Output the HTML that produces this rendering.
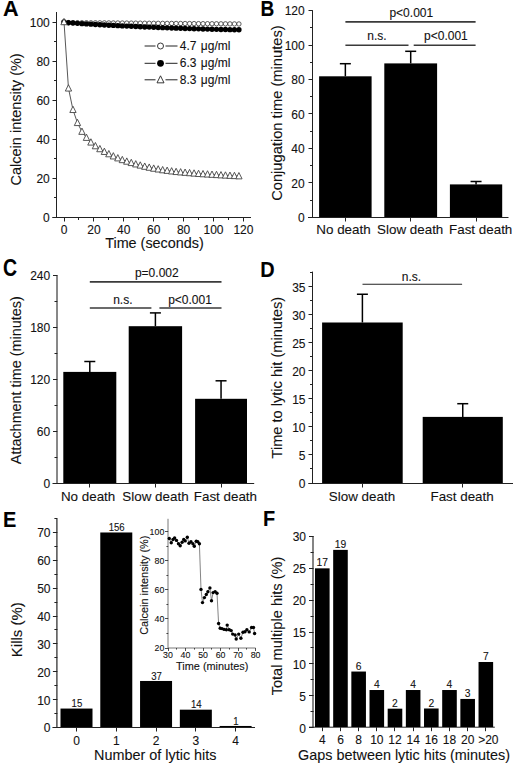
<!DOCTYPE html>
<html><head><meta charset="utf-8"><style>
html,body{margin:0;padding:0;background:#fff;}
svg{display:block;font-family:"Liberation Sans", sans-serif;}
text{stroke:#111;stroke-width:0.1px;paint-order:stroke;}
</style></head><body>
<svg width="520" height="763" viewBox="0 0 520 763">
<rect width="520" height="763" fill="#fff"/>
<text x="0" y="0" transform="translate(3,16.4) scale(1.03,1.075)" font-size="21" text-anchor="start" font-weight="bold" fill="#000">A</text>
<line x1="56.5" y1="12" x2="56.5" y2="217.5" stroke="#222" stroke-width="1"/>
<line x1="52.5" y1="217.5" x2="56.8" y2="217.5" stroke="#222" stroke-width="1"/>
<line x1="52.5" y1="178.5" x2="56.8" y2="178.5" stroke="#222" stroke-width="1"/>
<line x1="52.5" y1="139.5" x2="56.8" y2="139.5" stroke="#222" stroke-width="1"/>
<line x1="52.5" y1="100.5" x2="56.8" y2="100.5" stroke="#222" stroke-width="1"/>
<line x1="52.5" y1="61.5" x2="56.8" y2="61.5" stroke="#222" stroke-width="1"/>
<line x1="52.5" y1="22.5" x2="56.8" y2="22.5" stroke="#222" stroke-width="1"/>
<line x1="54" y1="197.5" x2="56.8" y2="197.5" stroke="#222" stroke-width="1"/>
<line x1="54" y1="158.5" x2="56.8" y2="158.5" stroke="#222" stroke-width="1"/>
<line x1="54" y1="119.5" x2="56.8" y2="119.5" stroke="#222" stroke-width="1"/>
<line x1="54" y1="80.5" x2="56.8" y2="80.5" stroke="#222" stroke-width="1"/>
<line x1="54" y1="41.5" x2="56.8" y2="41.5" stroke="#222" stroke-width="1"/>
<text x="49.8" y="222" font-size="12" text-anchor="end" fill="#111">0</text>
<text x="49.8" y="182.98" font-size="12" text-anchor="end" fill="#111">20</text>
<text x="49.8" y="143.96" font-size="12" text-anchor="end" fill="#111">40</text>
<text x="49.8" y="104.94" font-size="12" text-anchor="end" fill="#111">60</text>
<text x="49.8" y="65.92" font-size="12" text-anchor="end" fill="#111">80</text>
<text x="49.8" y="26.9" font-size="12" text-anchor="end" fill="#111">100</text>
<line x1="52.5" y1="217.5" x2="251" y2="217.5" stroke="#222" stroke-width="1"/>
<line x1="64.5" y1="217.5" x2="64.5" y2="221.5" stroke="#222" stroke-width="1"/>
<line x1="93.5" y1="217.5" x2="93.5" y2="221.5" stroke="#222" stroke-width="1"/>
<line x1="123.5" y1="217.5" x2="123.5" y2="221.5" stroke="#222" stroke-width="1"/>
<line x1="153.5" y1="217.5" x2="153.5" y2="221.5" stroke="#222" stroke-width="1"/>
<line x1="183.5" y1="217.5" x2="183.5" y2="221.5" stroke="#222" stroke-width="1"/>
<line x1="213.5" y1="217.5" x2="213.5" y2="221.5" stroke="#222" stroke-width="1"/>
<line x1="243.5" y1="217.5" x2="243.5" y2="221.5" stroke="#222" stroke-width="1"/>
<line x1="78.5" y1="217.5" x2="78.5" y2="220" stroke="#222" stroke-width="1"/>
<line x1="108.5" y1="217.5" x2="108.5" y2="220" stroke="#222" stroke-width="1"/>
<line x1="138.5" y1="217.5" x2="138.5" y2="220" stroke="#222" stroke-width="1"/>
<line x1="168.5" y1="217.5" x2="168.5" y2="220" stroke="#222" stroke-width="1"/>
<line x1="198.5" y1="217.5" x2="198.5" y2="220" stroke="#222" stroke-width="1"/>
<line x1="228.5" y1="217.5" x2="228.5" y2="220" stroke="#222" stroke-width="1"/>
<text x="64" y="233.7" font-size="12" text-anchor="middle" fill="#111">0</text>
<text x="93.9" y="233.7" font-size="12" text-anchor="middle" fill="#111">20</text>
<text x="123.8" y="233.7" font-size="12" text-anchor="middle" fill="#111">40</text>
<text x="153.7" y="233.7" font-size="12" text-anchor="middle" fill="#111">60</text>
<text x="183.6" y="233.7" font-size="12" text-anchor="middle" fill="#111">80</text>
<text x="213.5" y="233.7" font-size="12" text-anchor="middle" fill="#111">100</text>
<text x="243.4" y="233.7" font-size="12" text-anchor="middle" fill="#111">120</text>
<text x="154.5" y="248" font-size="14.4" text-anchor="middle" fill="#111">Time (seconds)</text>
<text x="0" y="0" transform="translate(21,119.4) rotate(-90)" font-size="14.5" text-anchor="middle" fill="#111">Calcein intensity (%)</text>
<polyline points="64,22 68.48,22.62 72.97,22.66 77.45,22.69 81.94,22.73 86.42,22.76 90.91,22.8 95.4,22.83 99.88,22.87 104.37,22.9 108.85,22.94 113.34,22.97 117.82,23.01 122.31,23.04 126.79,23.08 131.28,23.11 135.76,23.15 140.25,23.18 144.73,23.22 149.22,23.25 153.7,23.29 158.19,23.32 162.67,23.36 167.16,23.39 171.64,23.43 176.12,23.46 180.61,23.5 185.1,23.53 189.58,23.57 194.06,23.6 198.55,23.64 203.03,23.67 207.52,23.71 212.01,23.74 216.49,23.78 220.98,23.81 225.46,23.85 229.95,23.88 234.43,23.92 238.92,23.95" fill="none" stroke="#444" stroke-width="0.8"/>
<circle cx="64" cy="22" r="2.2" fill="#fff" stroke="#333" stroke-width="0.8"/>
<circle cx="68.48" cy="22.62" r="2.2" fill="#fff" stroke="#333" stroke-width="0.8"/>
<circle cx="72.97" cy="22.66" r="2.2" fill="#fff" stroke="#333" stroke-width="0.8"/>
<circle cx="77.45" cy="22.69" r="2.2" fill="#fff" stroke="#333" stroke-width="0.8"/>
<circle cx="81.94" cy="22.73" r="2.2" fill="#fff" stroke="#333" stroke-width="0.8"/>
<circle cx="86.42" cy="22.76" r="2.2" fill="#fff" stroke="#333" stroke-width="0.8"/>
<circle cx="90.91" cy="22.8" r="2.2" fill="#fff" stroke="#333" stroke-width="0.8"/>
<circle cx="95.4" cy="22.83" r="2.2" fill="#fff" stroke="#333" stroke-width="0.8"/>
<circle cx="99.88" cy="22.87" r="2.2" fill="#fff" stroke="#333" stroke-width="0.8"/>
<circle cx="104.37" cy="22.9" r="2.2" fill="#fff" stroke="#333" stroke-width="0.8"/>
<circle cx="108.85" cy="22.94" r="2.2" fill="#fff" stroke="#333" stroke-width="0.8"/>
<circle cx="113.34" cy="22.97" r="2.2" fill="#fff" stroke="#333" stroke-width="0.8"/>
<circle cx="117.82" cy="23.01" r="2.2" fill="#fff" stroke="#333" stroke-width="0.8"/>
<circle cx="122.31" cy="23.04" r="2.2" fill="#fff" stroke="#333" stroke-width="0.8"/>
<circle cx="126.79" cy="23.08" r="2.2" fill="#fff" stroke="#333" stroke-width="0.8"/>
<circle cx="131.28" cy="23.11" r="2.2" fill="#fff" stroke="#333" stroke-width="0.8"/>
<circle cx="135.76" cy="23.15" r="2.2" fill="#fff" stroke="#333" stroke-width="0.8"/>
<circle cx="140.25" cy="23.18" r="2.2" fill="#fff" stroke="#333" stroke-width="0.8"/>
<circle cx="144.73" cy="23.22" r="2.2" fill="#fff" stroke="#333" stroke-width="0.8"/>
<circle cx="149.22" cy="23.25" r="2.2" fill="#fff" stroke="#333" stroke-width="0.8"/>
<circle cx="153.7" cy="23.29" r="2.2" fill="#fff" stroke="#333" stroke-width="0.8"/>
<circle cx="158.19" cy="23.32" r="2.2" fill="#fff" stroke="#333" stroke-width="0.8"/>
<circle cx="162.67" cy="23.36" r="2.2" fill="#fff" stroke="#333" stroke-width="0.8"/>
<circle cx="167.16" cy="23.39" r="2.2" fill="#fff" stroke="#333" stroke-width="0.8"/>
<circle cx="171.64" cy="23.43" r="2.2" fill="#fff" stroke="#333" stroke-width="0.8"/>
<circle cx="176.12" cy="23.46" r="2.2" fill="#fff" stroke="#333" stroke-width="0.8"/>
<circle cx="180.61" cy="23.5" r="2.2" fill="#fff" stroke="#333" stroke-width="0.8"/>
<circle cx="185.1" cy="23.53" r="2.2" fill="#fff" stroke="#333" stroke-width="0.8"/>
<circle cx="189.58" cy="23.57" r="2.2" fill="#fff" stroke="#333" stroke-width="0.8"/>
<circle cx="194.06" cy="23.6" r="2.2" fill="#fff" stroke="#333" stroke-width="0.8"/>
<circle cx="198.55" cy="23.64" r="2.2" fill="#fff" stroke="#333" stroke-width="0.8"/>
<circle cx="203.03" cy="23.67" r="2.2" fill="#fff" stroke="#333" stroke-width="0.8"/>
<circle cx="207.52" cy="23.71" r="2.2" fill="#fff" stroke="#333" stroke-width="0.8"/>
<circle cx="212.01" cy="23.74" r="2.2" fill="#fff" stroke="#333" stroke-width="0.8"/>
<circle cx="216.49" cy="23.78" r="2.2" fill="#fff" stroke="#333" stroke-width="0.8"/>
<circle cx="220.98" cy="23.81" r="2.2" fill="#fff" stroke="#333" stroke-width="0.8"/>
<circle cx="225.46" cy="23.85" r="2.2" fill="#fff" stroke="#333" stroke-width="0.8"/>
<circle cx="229.95" cy="23.88" r="2.2" fill="#fff" stroke="#333" stroke-width="0.8"/>
<circle cx="234.43" cy="23.92" r="2.2" fill="#fff" stroke="#333" stroke-width="0.8"/>
<circle cx="238.92" cy="23.95" r="2.2" fill="#fff" stroke="#333" stroke-width="0.8"/>
<circle cx="64" cy="22" r="2.7" fill="#000"/>
<circle cx="68.48" cy="22.78" r="2.7" fill="#000"/>
<circle cx="72.97" cy="23.07" r="2.7" fill="#000"/>
<circle cx="77.45" cy="23.35" r="2.7" fill="#000"/>
<circle cx="81.94" cy="23.63" r="2.7" fill="#000"/>
<circle cx="86.42" cy="23.9" r="2.7" fill="#000"/>
<circle cx="90.91" cy="24.17" r="2.7" fill="#000"/>
<circle cx="95.4" cy="24.43" r="2.7" fill="#000"/>
<circle cx="99.88" cy="24.69" r="2.7" fill="#000"/>
<circle cx="104.37" cy="24.93" r="2.7" fill="#000"/>
<circle cx="108.85" cy="25.18" r="2.7" fill="#000"/>
<circle cx="113.34" cy="25.42" r="2.7" fill="#000"/>
<circle cx="117.82" cy="25.65" r="2.7" fill="#000"/>
<circle cx="122.31" cy="25.88" r="2.7" fill="#000"/>
<circle cx="126.79" cy="26.1" r="2.7" fill="#000"/>
<circle cx="131.28" cy="26.31" r="2.7" fill="#000"/>
<circle cx="135.76" cy="26.52" r="2.7" fill="#000"/>
<circle cx="140.25" cy="26.73" r="2.7" fill="#000"/>
<circle cx="144.73" cy="26.93" r="2.7" fill="#000"/>
<circle cx="149.22" cy="27.12" r="2.7" fill="#000"/>
<circle cx="153.7" cy="27.31" r="2.7" fill="#000"/>
<circle cx="158.19" cy="27.49" r="2.7" fill="#000"/>
<circle cx="162.67" cy="27.67" r="2.7" fill="#000"/>
<circle cx="167.16" cy="27.84" r="2.7" fill="#000"/>
<circle cx="171.64" cy="28" r="2.7" fill="#000"/>
<circle cx="176.12" cy="28.16" r="2.7" fill="#000"/>
<circle cx="180.61" cy="28.31" r="2.7" fill="#000"/>
<circle cx="185.1" cy="28.46" r="2.7" fill="#000"/>
<circle cx="189.58" cy="28.61" r="2.7" fill="#000"/>
<circle cx="194.06" cy="28.74" r="2.7" fill="#000"/>
<circle cx="198.55" cy="28.87" r="2.7" fill="#000"/>
<circle cx="203.03" cy="29" r="2.7" fill="#000"/>
<circle cx="207.52" cy="29.12" r="2.7" fill="#000"/>
<circle cx="212.01" cy="29.23" r="2.7" fill="#000"/>
<circle cx="216.49" cy="29.34" r="2.7" fill="#000"/>
<circle cx="220.98" cy="29.45" r="2.7" fill="#000"/>
<circle cx="225.46" cy="29.54" r="2.7" fill="#000"/>
<circle cx="229.95" cy="29.64" r="2.7" fill="#000"/>
<circle cx="234.43" cy="29.72" r="2.7" fill="#000"/>
<circle cx="238.92" cy="29.8" r="2.7" fill="#000"/>
<polyline points="64,22 68.48,88.33 72.97,109.79 77.45,122.87 81.94,131.65 86.42,137.69 90.91,142.38 95.4,146.08 99.88,149.01 104.37,151.74 108.85,154.08 113.34,156.23 117.82,158.18 122.31,159.94 126.79,161.5 131.28,162.86 135.76,164.23 140.25,165.4 144.73,166.57 149.22,167.54 153.7,168.52 158.19,169.3 162.67,170.08 167.16,170.67 171.64,171.25 176.12,171.84 180.61,172.23 185.1,172.62 189.58,173.01 194.06,173.4 198.55,173.79 203.03,174.06 207.52,174.33 212.01,174.61 216.49,174.88 220.98,175.15 225.46,175.4 229.95,175.64 234.43,175.89 238.92,176.13" fill="none" stroke="#444" stroke-width="0.9"/>
<path d="M64,18.4 L67.15,24.73 L60.85,24.73 Z" fill="#fff" stroke="#444" stroke-width="0.9"/>
<path d="M68.48,84.73 L71.64,91.06 L65.33,91.06 Z" fill="#fff" stroke="#444" stroke-width="0.9"/>
<path d="M72.97,106.19 L76.12,112.52 L69.82,112.52 Z" fill="#fff" stroke="#444" stroke-width="0.9"/>
<path d="M77.45,119.27 L80.61,125.59 L74.3,125.59 Z" fill="#fff" stroke="#444" stroke-width="0.9"/>
<path d="M81.94,128.05 L85.09,134.37 L78.79,134.37 Z" fill="#fff" stroke="#444" stroke-width="0.9"/>
<path d="M86.42,134.09 L89.58,140.42 L83.27,140.42 Z" fill="#fff" stroke="#444" stroke-width="0.9"/>
<path d="M90.91,138.78 L94.06,145.1 L87.76,145.1 Z" fill="#fff" stroke="#444" stroke-width="0.9"/>
<path d="M95.4,142.48 L98.55,148.81 L92.25,148.81 Z" fill="#fff" stroke="#444" stroke-width="0.9"/>
<path d="M99.88,145.41 L103.03,151.74 L96.73,151.74 Z" fill="#fff" stroke="#444" stroke-width="0.9"/>
<path d="M104.37,148.14 L107.52,154.47 L101.22,154.47 Z" fill="#fff" stroke="#444" stroke-width="0.9"/>
<path d="M108.85,150.48 L112,156.81 L105.7,156.81 Z" fill="#fff" stroke="#444" stroke-width="0.9"/>
<path d="M113.34,152.63 L116.49,158.96 L110.19,158.96 Z" fill="#fff" stroke="#444" stroke-width="0.9"/>
<path d="M117.82,154.58 L120.97,160.91 L114.67,160.91 Z" fill="#fff" stroke="#444" stroke-width="0.9"/>
<path d="M122.31,156.33 L125.46,162.66 L119.16,162.66 Z" fill="#fff" stroke="#444" stroke-width="0.9"/>
<path d="M126.79,157.9 L129.94,164.22 L123.64,164.22 Z" fill="#fff" stroke="#444" stroke-width="0.9"/>
<path d="M131.28,159.26 L134.43,165.59 L128.12,165.59 Z" fill="#fff" stroke="#444" stroke-width="0.9"/>
<path d="M135.76,160.63 L138.91,166.96 L132.61,166.96 Z" fill="#fff" stroke="#444" stroke-width="0.9"/>
<path d="M140.25,161.8 L143.4,168.13 L137.09,168.13 Z" fill="#fff" stroke="#444" stroke-width="0.9"/>
<path d="M144.73,162.97 L147.88,169.3 L141.58,169.3 Z" fill="#fff" stroke="#444" stroke-width="0.9"/>
<path d="M149.22,163.94 L152.37,170.27 L146.06,170.27 Z" fill="#fff" stroke="#444" stroke-width="0.9"/>
<path d="M153.7,164.92 L156.85,171.25 L150.55,171.25 Z" fill="#fff" stroke="#444" stroke-width="0.9"/>
<path d="M158.19,165.7 L161.34,172.03 L155.03,172.03 Z" fill="#fff" stroke="#444" stroke-width="0.9"/>
<path d="M162.67,166.48 L165.82,172.81 L159.52,172.81 Z" fill="#fff" stroke="#444" stroke-width="0.9"/>
<path d="M167.16,167.07 L170.31,173.39 L164,173.39 Z" fill="#fff" stroke="#444" stroke-width="0.9"/>
<path d="M171.64,167.65 L174.79,173.98 L168.49,173.98 Z" fill="#fff" stroke="#444" stroke-width="0.9"/>
<path d="M176.12,168.24 L179.28,174.56 L172.97,174.56 Z" fill="#fff" stroke="#444" stroke-width="0.9"/>
<path d="M180.61,168.63 L183.76,174.95 L177.46,174.95 Z" fill="#fff" stroke="#444" stroke-width="0.9"/>
<path d="M185.1,169.02 L188.25,175.35 L181.95,175.35 Z" fill="#fff" stroke="#444" stroke-width="0.9"/>
<path d="M189.58,169.41 L192.73,175.74 L186.43,175.74 Z" fill="#fff" stroke="#444" stroke-width="0.9"/>
<path d="M194.06,169.8 L197.22,176.13 L190.91,176.13 Z" fill="#fff" stroke="#444" stroke-width="0.9"/>
<path d="M198.55,170.19 L201.7,176.52 L195.4,176.52 Z" fill="#fff" stroke="#444" stroke-width="0.9"/>
<path d="M203.03,170.46 L206.19,176.79 L199.88,176.79 Z" fill="#fff" stroke="#444" stroke-width="0.9"/>
<path d="M207.52,170.73 L210.67,177.06 L204.37,177.06 Z" fill="#fff" stroke="#444" stroke-width="0.9"/>
<path d="M212.01,171.01 L215.16,177.34 L208.86,177.34 Z" fill="#fff" stroke="#444" stroke-width="0.9"/>
<path d="M216.49,171.28 L219.64,177.61 L213.34,177.61 Z" fill="#fff" stroke="#444" stroke-width="0.9"/>
<path d="M220.98,171.55 L224.13,177.88 L217.83,177.88 Z" fill="#fff" stroke="#444" stroke-width="0.9"/>
<path d="M225.46,171.8 L228.61,178.13 L222.31,178.13 Z" fill="#fff" stroke="#444" stroke-width="0.9"/>
<path d="M229.95,172.04 L233.1,178.37 L226.8,178.37 Z" fill="#fff" stroke="#444" stroke-width="0.9"/>
<path d="M234.43,172.28 L237.58,178.61 L231.28,178.61 Z" fill="#fff" stroke="#444" stroke-width="0.9"/>
<path d="M238.92,172.53 L242.07,178.86 L235.77,178.86 Z" fill="#fff" stroke="#444" stroke-width="0.9"/>
<line x1="144.6" y1="46" x2="155.5" y2="46" stroke="#222" stroke-width="1"/>
<line x1="165.5" y1="46" x2="177.5" y2="46" stroke="#222" stroke-width="1"/>
<circle cx="160.5" cy="46" r="3" fill="#fff" stroke="#222" stroke-width="0.9"/>
<text x="179.8" y="50" font-size="12" text-anchor="start" fill="#111">4.7 <tspan dx="1">μg/ml</tspan></text>
<line x1="144.6" y1="63.3" x2="155.5" y2="63.3" stroke="#222" stroke-width="1"/>
<line x1="165.5" y1="63.3" x2="177.5" y2="63.3" stroke="#222" stroke-width="1"/>
<circle cx="160.5" cy="63.3" r="3.4" fill="#000"/>
<text x="179.8" y="67.3" font-size="12" text-anchor="start" fill="#111">6.3 <tspan dx="1">μg/ml</tspan></text>
<line x1="144.6" y1="79.8" x2="155.5" y2="79.8" stroke="#222" stroke-width="1"/>
<line x1="165.5" y1="79.8" x2="177.5" y2="79.8" stroke="#222" stroke-width="1"/>
<path d="M160.5,75.8 L164,82.83 L157,82.83 Z" fill="#fff" stroke="#222" stroke-width="0.9"/>
<text x="179.8" y="83.8" font-size="12" text-anchor="start" fill="#111">8.3 <tspan dx="1">μg/ml</tspan></text>
<text x="0" y="0" transform="translate(260.5,15.6) scale(0.91,1.05)" font-size="21" text-anchor="start" font-weight="bold" fill="#000">B</text>
<line x1="312.5" y1="10.4" x2="312.5" y2="217.5" stroke="#222" stroke-width="1"/>
<line x1="308.5" y1="217.5" x2="312.8" y2="217.5" stroke="#222" stroke-width="1"/>
<line x1="308.5" y1="182.5" x2="312.8" y2="182.5" stroke="#222" stroke-width="1"/>
<line x1="308.5" y1="148.5" x2="312.8" y2="148.5" stroke="#222" stroke-width="1"/>
<line x1="308.5" y1="113.5" x2="312.8" y2="113.5" stroke="#222" stroke-width="1"/>
<line x1="308.5" y1="79.5" x2="312.8" y2="79.5" stroke="#222" stroke-width="1"/>
<line x1="308.5" y1="45.5" x2="312.8" y2="45.5" stroke="#222" stroke-width="1"/>
<line x1="308.5" y1="10.5" x2="312.8" y2="10.5" stroke="#222" stroke-width="1"/>
<line x1="310" y1="200.5" x2="312.8" y2="200.5" stroke="#222" stroke-width="1"/>
<line x1="310" y1="165.5" x2="312.8" y2="165.5" stroke="#222" stroke-width="1"/>
<line x1="310" y1="131.5" x2="312.8" y2="131.5" stroke="#222" stroke-width="1"/>
<line x1="310" y1="96.5" x2="312.8" y2="96.5" stroke="#222" stroke-width="1"/>
<line x1="310" y1="62.5" x2="312.8" y2="62.5" stroke="#222" stroke-width="1"/>
<line x1="310" y1="27.5" x2="312.8" y2="27.5" stroke="#222" stroke-width="1"/>
<text x="304.7" y="222.2" font-size="12" text-anchor="end" fill="#111">0</text>
<text x="304.7" y="187.74" font-size="12" text-anchor="end" fill="#111">20</text>
<text x="304.7" y="153.28" font-size="12" text-anchor="end" fill="#111">40</text>
<text x="304.7" y="118.82" font-size="12" text-anchor="end" fill="#111">60</text>
<text x="304.7" y="84.36" font-size="12" text-anchor="end" fill="#111">80</text>
<text x="304.7" y="49.9" font-size="12" text-anchor="end" fill="#111">100</text>
<text x="304.7" y="15.44" font-size="12" text-anchor="end" fill="#111">120</text>
<line x1="308" y1="217.5" x2="508.5" y2="217.5" stroke="#222" stroke-width="1"/>
<line x1="345.5" y1="217.5" x2="345.5" y2="221.5" stroke="#222" stroke-width="1"/>
<line x1="410.5" y1="217.5" x2="410.5" y2="221.5" stroke="#222" stroke-width="1"/>
<line x1="476.5" y1="217.5" x2="476.5" y2="221.5" stroke="#222" stroke-width="1"/>
<rect x="319.1" y="76.3" width="52.5" height="140.7" fill="#000"/>
<line x1="345.35" y1="76.3" x2="345.35" y2="63.7" stroke="#000" stroke-width="1.5"/>
<line x1="339.85" y1="63.7" x2="350.85" y2="63.7" stroke="#000" stroke-width="1.5"/>
<rect x="384.3" y="63.4" width="52.8" height="153.6" fill="#000"/>
<line x1="410.7" y1="63.4" x2="410.7" y2="51.3" stroke="#000" stroke-width="1.5"/>
<line x1="405.2" y1="51.3" x2="416.2" y2="51.3" stroke="#000" stroke-width="1.5"/>
<rect x="449.9" y="184.4" width="52.3" height="32.6" fill="#000"/>
<line x1="476.05" y1="184.4" x2="476.05" y2="181.5" stroke="#000" stroke-width="1.5"/>
<line x1="470.55" y1="181.5" x2="481.55" y2="181.5" stroke="#000" stroke-width="1.5"/>
<line x1="345.4" y1="21.9" x2="475.6" y2="21.9" stroke="#3a3a3a" stroke-width="1.6"/>
<line x1="345.4" y1="45.3" x2="408.5" y2="45.3" stroke="#3a3a3a" stroke-width="1.6"/>
<line x1="413.7" y1="45.3" x2="475.6" y2="45.3" stroke="#3a3a3a" stroke-width="1.6"/>
<text x="411.3" y="17.3" font-size="12" text-anchor="middle" fill="#111">p&lt;0.001</text>
<text x="377" y="40.1" font-size="12" text-anchor="middle" fill="#111">n.s.</text>
<text x="445.9" y="39.6" font-size="12" text-anchor="middle" fill="#111">p&lt;0.001</text>
<text x="343.5" y="234" font-size="13.4" text-anchor="middle" fill="#111">No death</text>
<text x="410.2" y="234" font-size="13.4" text-anchor="middle" fill="#111">Slow death</text>
<text x="480.7" y="233.5" font-size="13.4" text-anchor="middle" fill="#111">Fast death</text>
<text x="0" y="0" transform="translate(282.2,113.1) rotate(-90)" font-size="14.7" text-anchor="middle" fill="#111">Conjugation time (minutes)</text>
<text x="0" y="0" transform="translate(3,276.4) scale(0.93,1.1)" font-size="21" text-anchor="start" font-weight="bold" fill="#000">C</text>
<line x1="57" y1="275" x2="57" y2="483.5" stroke="#111" stroke-width="1"/>
<line x1="53" y1="483.5" x2="57.3" y2="483.5" stroke="#222" stroke-width="1"/>
<line x1="53" y1="431.5" x2="57.3" y2="431.5" stroke="#222" stroke-width="1"/>
<line x1="53" y1="379.5" x2="57.3" y2="379.5" stroke="#222" stroke-width="1"/>
<line x1="53" y1="327.5" x2="57.3" y2="327.5" stroke="#222" stroke-width="1"/>
<line x1="53" y1="275.5" x2="57.3" y2="275.5" stroke="#222" stroke-width="1"/>
<line x1="54.5" y1="457.5" x2="57.3" y2="457.5" stroke="#222" stroke-width="1"/>
<line x1="54.5" y1="405.5" x2="57.3" y2="405.5" stroke="#222" stroke-width="1"/>
<line x1="54.5" y1="353.5" x2="57.3" y2="353.5" stroke="#222" stroke-width="1"/>
<line x1="54.5" y1="301.5" x2="57.3" y2="301.5" stroke="#222" stroke-width="1"/>
<text x="50.2" y="488.3" font-size="12" text-anchor="end" fill="#111">0</text>
<text x="50.2" y="436.3" font-size="12" text-anchor="end" fill="#111">60</text>
<text x="50.2" y="384.3" font-size="12" text-anchor="end" fill="#111">120</text>
<text x="50.2" y="332.29" font-size="12" text-anchor="end" fill="#111">180</text>
<text x="50.2" y="280.29" font-size="12" text-anchor="end" fill="#111">240</text>
<line x1="52.5" y1="483.5" x2="254.2" y2="483.5" stroke="#222" stroke-width="1"/>
<line x1="89.5" y1="483.5" x2="89.5" y2="487.5" stroke="#222" stroke-width="1"/>
<line x1="155.5" y1="483.5" x2="155.5" y2="487.5" stroke="#222" stroke-width="1"/>
<line x1="221.5" y1="483.5" x2="221.5" y2="487.5" stroke="#222" stroke-width="1"/>
<rect x="63.3" y="371.9" width="53" height="111.1" fill="#000"/>
<line x1="89.8" y1="371.9" x2="89.8" y2="361.5" stroke="#000" stroke-width="1.5"/>
<line x1="84.3" y1="361.5" x2="95.3" y2="361.5" stroke="#000" stroke-width="1.5"/>
<rect x="128.7" y="326.2" width="53.4" height="156.8" fill="#000"/>
<line x1="155.4" y1="326.2" x2="155.4" y2="312.9" stroke="#000" stroke-width="1.5"/>
<line x1="149.9" y1="312.9" x2="160.9" y2="312.9" stroke="#000" stroke-width="1.5"/>
<rect x="195.1" y="398.8" width="51.9" height="84.2" fill="#000"/>
<line x1="221.05" y1="398.8" x2="221.05" y2="380.8" stroke="#000" stroke-width="1.5"/>
<line x1="215.55" y1="380.8" x2="226.55" y2="380.8" stroke="#000" stroke-width="1.5"/>
<line x1="89.8" y1="281.9" x2="221.5" y2="281.9" stroke="#3a3a3a" stroke-width="1.6"/>
<line x1="89.8" y1="308" x2="151.4" y2="308" stroke="#3a3a3a" stroke-width="1.6"/>
<line x1="159.4" y1="308" x2="221.5" y2="308" stroke="#3a3a3a" stroke-width="1.6"/>
<text x="156.8" y="277.4" font-size="12" text-anchor="middle" fill="#111">p=0.002</text>
<text x="122.8" y="303.7" font-size="12" text-anchor="middle" fill="#111">n.s.</text>
<text x="190" y="303.7" font-size="12" text-anchor="middle" fill="#111">p&lt;0.001</text>
<text x="88.1" y="500.9" font-size="13.4" text-anchor="middle" fill="#111">No death</text>
<text x="155.5" y="500.9" font-size="13.4" text-anchor="middle" fill="#111">Slow death</text>
<text x="225.4" y="500.9" font-size="13.4" text-anchor="middle" fill="#111">Fast death</text>
<text x="0" y="0" transform="translate(21,380.2) rotate(-90)" font-size="14.4" text-anchor="middle" fill="#111">Attachment time (minutes)</text>
<text x="0" y="0" transform="translate(260.2,277) scale(0.95,1.09)" font-size="21" text-anchor="start" font-weight="bold" fill="#000">D</text>
<line x1="312.5" y1="271.6" x2="312.5" y2="483.5" stroke="#222" stroke-width="1"/>
<line x1="308.5" y1="483.5" x2="312.8" y2="483.5" stroke="#222" stroke-width="1"/>
<line x1="308.5" y1="454.5" x2="312.8" y2="454.5" stroke="#222" stroke-width="1"/>
<line x1="308.5" y1="426.5" x2="312.8" y2="426.5" stroke="#222" stroke-width="1"/>
<line x1="308.5" y1="398.5" x2="312.8" y2="398.5" stroke="#222" stroke-width="1"/>
<line x1="308.5" y1="370.5" x2="312.8" y2="370.5" stroke="#222" stroke-width="1"/>
<line x1="308.5" y1="342.5" x2="312.8" y2="342.5" stroke="#222" stroke-width="1"/>
<line x1="308.5" y1="314.5" x2="312.8" y2="314.5" stroke="#222" stroke-width="1"/>
<line x1="308.5" y1="286.5" x2="312.8" y2="286.5" stroke="#222" stroke-width="1"/>
<line x1="310" y1="468.5" x2="312.8" y2="468.5" stroke="#222" stroke-width="1"/>
<line x1="310" y1="440.5" x2="312.8" y2="440.5" stroke="#222" stroke-width="1"/>
<line x1="310" y1="412.5" x2="312.8" y2="412.5" stroke="#222" stroke-width="1"/>
<line x1="310" y1="384.5" x2="312.8" y2="384.5" stroke="#222" stroke-width="1"/>
<line x1="310" y1="356.5" x2="312.8" y2="356.5" stroke="#222" stroke-width="1"/>
<line x1="310" y1="328.5" x2="312.8" y2="328.5" stroke="#222" stroke-width="1"/>
<line x1="310" y1="300.5" x2="312.8" y2="300.5" stroke="#222" stroke-width="1"/>
<line x1="310" y1="272.5" x2="312.8" y2="272.5" stroke="#222" stroke-width="1"/>
<text x="305.5" y="487.9" font-size="12" text-anchor="end" fill="#111">0</text>
<text x="305.5" y="459.85" font-size="12" text-anchor="end" fill="#111">5</text>
<text x="305.5" y="431.81" font-size="12" text-anchor="end" fill="#111">10</text>
<text x="305.5" y="403.76" font-size="12" text-anchor="end" fill="#111">15</text>
<text x="305.5" y="375.72" font-size="12" text-anchor="end" fill="#111">20</text>
<text x="305.5" y="347.67" font-size="12" text-anchor="end" fill="#111">25</text>
<text x="305.5" y="319.63" font-size="12" text-anchor="end" fill="#111">30</text>
<text x="305.5" y="291.58" font-size="12" text-anchor="end" fill="#111">35</text>
<line x1="308.5" y1="483.5" x2="513" y2="483.5" stroke="#222" stroke-width="1"/>
<line x1="362.5" y1="483.5" x2="362.5" y2="487.5" stroke="#222" stroke-width="1"/>
<line x1="462.5" y1="483.5" x2="462.5" y2="487.5" stroke="#222" stroke-width="1"/>
<rect x="322.1" y="322.5" width="80.6" height="160.5" fill="#000"/>
<line x1="362.4" y1="322.5" x2="362.4" y2="294.25" stroke="#000" stroke-width="1.5"/>
<line x1="356.9" y1="294.25" x2="367.9" y2="294.25" stroke="#000" stroke-width="1.5"/>
<rect x="422.7" y="416.9" width="80.1" height="66.1" fill="#000"/>
<line x1="462.75" y1="416.9" x2="462.75" y2="403.7" stroke="#000" stroke-width="1.5"/>
<line x1="457.25" y1="403.7" x2="468.25" y2="403.7" stroke="#000" stroke-width="1.5"/>
<line x1="362.5" y1="284.2" x2="462.1" y2="284.2" stroke="#222" stroke-width="1.1"/>
<text x="411.5" y="280.5" font-size="12" text-anchor="middle" fill="#111">n.s.</text>
<text x="362" y="501" font-size="13.4" text-anchor="middle" fill="#111">Slow death</text>
<text x="462.1" y="501" font-size="13.4" text-anchor="middle" fill="#111">Fast death</text>
<text x="0" y="0" transform="translate(282.3,377.6) rotate(-90)" font-size="14.6" text-anchor="middle" fill="#111">Time to lytic hit (minutes)</text>
<text x="0" y="0" transform="translate(3,527) scale(0.95,1.09)" font-size="21" text-anchor="start" font-weight="bold" fill="#000">E</text>
<line x1="56.9" y1="518.6" x2="56.9" y2="727.5" stroke="#333" stroke-width="1.3"/>
<line x1="52.9" y1="727.5" x2="57.35" y2="727.5" stroke="#222" stroke-width="1"/>
<line x1="52.9" y1="699.5" x2="57.35" y2="699.5" stroke="#222" stroke-width="1"/>
<line x1="52.9" y1="671.5" x2="57.35" y2="671.5" stroke="#222" stroke-width="1"/>
<line x1="52.9" y1="643.5" x2="57.35" y2="643.5" stroke="#222" stroke-width="1"/>
<line x1="52.9" y1="616.5" x2="57.35" y2="616.5" stroke="#222" stroke-width="1"/>
<line x1="52.9" y1="588.5" x2="57.35" y2="588.5" stroke="#222" stroke-width="1"/>
<line x1="52.9" y1="560.5" x2="57.35" y2="560.5" stroke="#222" stroke-width="1"/>
<line x1="52.9" y1="532.5" x2="57.35" y2="532.5" stroke="#222" stroke-width="1"/>
<line x1="54.4" y1="713.5" x2="57.35" y2="713.5" stroke="#222" stroke-width="1"/>
<line x1="54.4" y1="685.5" x2="57.35" y2="685.5" stroke="#222" stroke-width="1"/>
<line x1="54.4" y1="657.5" x2="57.35" y2="657.5" stroke="#222" stroke-width="1"/>
<line x1="54.4" y1="629.5" x2="57.35" y2="629.5" stroke="#222" stroke-width="1"/>
<line x1="54.4" y1="602.5" x2="57.35" y2="602.5" stroke="#222" stroke-width="1"/>
<line x1="54.4" y1="574.5" x2="57.35" y2="574.5" stroke="#222" stroke-width="1"/>
<line x1="54.4" y1="546.5" x2="57.35" y2="546.5" stroke="#222" stroke-width="1"/>
<line x1="54.4" y1="518.5" x2="57.35" y2="518.5" stroke="#222" stroke-width="1"/>
<text x="50.5" y="732.4" font-size="12" text-anchor="end" fill="#111">0</text>
<text x="50.5" y="704.54" font-size="12" text-anchor="end" fill="#111">10</text>
<text x="50.5" y="676.68" font-size="12" text-anchor="end" fill="#111">20</text>
<text x="50.5" y="648.82" font-size="12" text-anchor="end" fill="#111">30</text>
<text x="50.5" y="620.96" font-size="12" text-anchor="end" fill="#111">40</text>
<text x="50.5" y="593.1" font-size="12" text-anchor="end" fill="#111">50</text>
<text x="50.5" y="565.24" font-size="12" text-anchor="end" fill="#111">60</text>
<text x="50.5" y="537.38" font-size="12" text-anchor="end" fill="#111">70</text>
<line x1="52.5" y1="727.5" x2="255" y2="727.5" stroke="#222" stroke-width="1"/>
<line x1="76.5" y1="727.5" x2="76.5" y2="731.5" stroke="#222" stroke-width="1"/>
<line x1="116.5" y1="727.5" x2="116.5" y2="731.5" stroke="#222" stroke-width="1"/>
<line x1="156.5" y1="727.5" x2="156.5" y2="731.5" stroke="#222" stroke-width="1"/>
<line x1="195.5" y1="727.5" x2="195.5" y2="731.5" stroke="#222" stroke-width="1"/>
<line x1="235.5" y1="727.5" x2="235.5" y2="731.5" stroke="#222" stroke-width="1"/>
<rect x="60.5" y="708.56" width="32" height="18.44" fill="#000"/>
<text x="0" y="0" transform="translate(76.9,707.26) scale(1,1.2)" font-size="9.6" text-anchor="middle" fill="#111">15</text>
<text x="76.5" y="744.5" font-size="12" text-anchor="middle" fill="#111">0</text>
<rect x="100.28" y="532.48" width="32" height="194.52" fill="#000"/>
<text x="0" y="0" transform="translate(116.68,531.18) scale(1,1.2)" font-size="9.6" text-anchor="middle" fill="#111">156</text>
<text x="116.28" y="744.5" font-size="12" text-anchor="middle" fill="#111">1</text>
<rect x="140.06" y="680.97" width="32" height="46.03" fill="#000"/>
<text x="0" y="0" transform="translate(156.46,679.67) scale(1,1.2)" font-size="9.6" text-anchor="middle" fill="#111">37</text>
<text x="156.06" y="744.5" font-size="12" text-anchor="middle" fill="#111">2</text>
<rect x="179.84" y="709.67" width="32" height="17.33" fill="#000"/>
<text x="0" y="0" transform="translate(196.24,708.37) scale(1,1.2)" font-size="9.6" text-anchor="middle" fill="#111">14</text>
<text x="195.84" y="744.5" font-size="12" text-anchor="middle" fill="#111">3</text>
<rect x="219.62" y="725.97" width="32" height="1.03" fill="#000"/>
<text x="0" y="0" transform="translate(236.02,724.67) scale(1,1.2)" font-size="9.6" text-anchor="middle" fill="#111">1</text>
<text x="235.62" y="744.5" font-size="12" text-anchor="middle" fill="#111">4</text>
<text x="155.3" y="760.1" font-size="14.4" text-anchor="middle" fill="#111">Number of lytic hits</text>
<text x="0" y="0" transform="translate(21.5,629.7) rotate(-90)" font-size="15" text-anchor="middle" fill="#111">Kills (%)</text>
<line x1="168" y1="518.8" x2="168" y2="648" stroke="#555" stroke-width="0.8"/>
<line x1="165" y1="648.5" x2="168.2" y2="648.5" stroke="#222" stroke-width="0.8"/>
<line x1="165" y1="618.5" x2="168.2" y2="618.5" stroke="#222" stroke-width="0.8"/>
<line x1="165" y1="589.5" x2="168.2" y2="589.5" stroke="#222" stroke-width="0.8"/>
<line x1="165" y1="560.5" x2="168.2" y2="560.5" stroke="#222" stroke-width="0.8"/>
<line x1="165" y1="531.5" x2="168.2" y2="531.5" stroke="#222" stroke-width="0.8"/>
<line x1="166.4" y1="633.5" x2="168.2" y2="633.5" stroke="#222" stroke-width="0.8"/>
<line x1="166.4" y1="604.5" x2="168.2" y2="604.5" stroke="#222" stroke-width="0.8"/>
<line x1="166.4" y1="575.5" x2="168.2" y2="575.5" stroke="#222" stroke-width="0.8"/>
<line x1="166.4" y1="546.5" x2="168.2" y2="546.5" stroke="#222" stroke-width="0.8"/>
<text x="164.3" y="651.2" font-size="8.8" text-anchor="end" fill="#111">20</text>
<text x="164.3" y="622.15" font-size="8.8" text-anchor="end" fill="#111">40</text>
<text x="164.3" y="593.1" font-size="8.8" text-anchor="end" fill="#111">60</text>
<text x="164.3" y="564.05" font-size="8.8" text-anchor="end" fill="#111">80</text>
<text x="164.3" y="535" font-size="8.8" text-anchor="end" fill="#111">100</text>
<line x1="168" y1="648" x2="255.6" y2="648" stroke="#555" stroke-width="0.8"/>
<line x1="168.5" y1="648" x2="168.5" y2="651" stroke="#222" stroke-width="0.8"/>
<line x1="185.5" y1="648" x2="185.5" y2="651" stroke="#222" stroke-width="0.8"/>
<line x1="203.5" y1="648" x2="203.5" y2="651" stroke="#222" stroke-width="0.8"/>
<line x1="220.5" y1="648" x2="220.5" y2="651" stroke="#222" stroke-width="0.8"/>
<line x1="238.5" y1="648" x2="238.5" y2="651" stroke="#222" stroke-width="0.8"/>
<line x1="255.5" y1="648" x2="255.5" y2="651" stroke="#222" stroke-width="0.8"/>
<line x1="176.5" y1="648" x2="176.5" y2="649.6" stroke="#222" stroke-width="0.8"/>
<line x1="194.5" y1="648" x2="194.5" y2="649.6" stroke="#222" stroke-width="0.8"/>
<line x1="211.5" y1="648" x2="211.5" y2="649.6" stroke="#222" stroke-width="0.8"/>
<line x1="229.5" y1="648" x2="229.5" y2="649.6" stroke="#222" stroke-width="0.8"/>
<line x1="246.5" y1="648" x2="246.5" y2="649.6" stroke="#222" stroke-width="0.8"/>
<text x="168" y="658.3" font-size="8.8" text-anchor="middle" fill="#111">30</text>
<text x="185.52" y="658.3" font-size="8.8" text-anchor="middle" fill="#111">40</text>
<text x="203.04" y="658.3" font-size="8.8" text-anchor="middle" fill="#111">50</text>
<text x="220.56" y="658.3" font-size="8.8" text-anchor="middle" fill="#111">60</text>
<text x="238.08" y="658.3" font-size="8.8" text-anchor="middle" fill="#111">70</text>
<text x="255.6" y="658.3" font-size="8.8" text-anchor="middle" fill="#111">80</text>
<text x="212.2" y="669.5" font-size="10.9" text-anchor="middle" fill="#111">Time (minutes)</text>
<text x="0" y="0" transform="translate(148.3,585.2) rotate(-90)" font-size="10.9" text-anchor="middle" fill="#111">Calcein intensity (%)</text>
<polyline points="169.3,538.5 171.25,542.8 173,539.5 174.6,538 176.5,540.4 178.5,543.75 180.2,545.7 182.1,542.3 183.75,539.4 185.2,540.9 187.3,537.3 189,543.3 190.96,541.8 192.9,543.75 194.3,546.2 196.25,541.3 197.8,541.8 199.4,543.8 201,589.4 202.5,602.6 204.4,597.6 206.3,594.5 207.9,591.8 209.9,587.9 211.5,600.8 213.1,592.6 215.1,591.6 217,593.2 218.6,623.5 220.2,628.3 222,628.6 224.1,629.4 226.4,629.8 227.2,625.1 229.3,629.8 231.2,630.6 232.7,634.1 235.1,635 236.2,639 238.7,634.1 240.9,638.2 243,632.2 245,631.7 246.9,629.8 249.2,631.9 251.6,627.5 253.5,627.5 254.6,633.5" fill="none" stroke="#666" stroke-width="0.8"/>
<circle cx="169.3" cy="538.5" r="1.7" fill="#000"/>
<circle cx="171.25" cy="542.8" r="1.7" fill="#000"/>
<circle cx="173" cy="539.5" r="1.7" fill="#000"/>
<circle cx="174.6" cy="538" r="1.7" fill="#000"/>
<circle cx="176.5" cy="540.4" r="1.7" fill="#000"/>
<circle cx="178.5" cy="543.75" r="1.7" fill="#000"/>
<circle cx="180.2" cy="545.7" r="1.7" fill="#000"/>
<circle cx="182.1" cy="542.3" r="1.7" fill="#000"/>
<circle cx="183.75" cy="539.4" r="1.7" fill="#000"/>
<circle cx="185.2" cy="540.9" r="1.7" fill="#000"/>
<circle cx="187.3" cy="537.3" r="1.7" fill="#000"/>
<circle cx="189" cy="543.3" r="1.7" fill="#000"/>
<circle cx="190.96" cy="541.8" r="1.7" fill="#000"/>
<circle cx="192.9" cy="543.75" r="1.7" fill="#000"/>
<circle cx="194.3" cy="546.2" r="1.7" fill="#000"/>
<circle cx="196.25" cy="541.3" r="1.7" fill="#000"/>
<circle cx="197.8" cy="541.8" r="1.7" fill="#000"/>
<circle cx="199.4" cy="543.8" r="1.7" fill="#000"/>
<circle cx="201" cy="589.4" r="1.7" fill="#000"/>
<circle cx="202.5" cy="602.6" r="1.7" fill="#000"/>
<circle cx="204.4" cy="597.6" r="1.7" fill="#000"/>
<circle cx="206.3" cy="594.5" r="1.7" fill="#000"/>
<circle cx="207.9" cy="591.8" r="1.7" fill="#000"/>
<circle cx="209.9" cy="587.9" r="1.7" fill="#000"/>
<circle cx="211.5" cy="600.8" r="1.7" fill="#000"/>
<circle cx="213.1" cy="592.6" r="1.7" fill="#000"/>
<circle cx="215.1" cy="591.6" r="1.7" fill="#000"/>
<circle cx="217" cy="593.2" r="1.7" fill="#000"/>
<circle cx="218.6" cy="623.5" r="1.7" fill="#000"/>
<circle cx="220.2" cy="628.3" r="1.7" fill="#000"/>
<circle cx="222" cy="628.6" r="1.7" fill="#000"/>
<circle cx="224.1" cy="629.4" r="1.7" fill="#000"/>
<circle cx="226.4" cy="629.8" r="1.7" fill="#000"/>
<circle cx="227.2" cy="625.1" r="1.7" fill="#000"/>
<circle cx="229.3" cy="629.8" r="1.7" fill="#000"/>
<circle cx="231.2" cy="630.6" r="1.7" fill="#000"/>
<circle cx="232.7" cy="634.1" r="1.7" fill="#000"/>
<circle cx="235.1" cy="635" r="1.7" fill="#000"/>
<circle cx="236.2" cy="639" r="1.7" fill="#000"/>
<circle cx="238.7" cy="634.1" r="1.7" fill="#000"/>
<circle cx="240.9" cy="638.2" r="1.7" fill="#000"/>
<circle cx="243" cy="632.2" r="1.7" fill="#000"/>
<circle cx="245" cy="631.7" r="1.7" fill="#000"/>
<circle cx="246.9" cy="629.8" r="1.7" fill="#000"/>
<circle cx="249.2" cy="631.9" r="1.7" fill="#000"/>
<circle cx="251.6" cy="627.5" r="1.7" fill="#000"/>
<circle cx="253.5" cy="627.5" r="1.7" fill="#000"/>
<circle cx="254.6" cy="633.5" r="1.7" fill="#000"/>
<text x="0" y="0" transform="translate(263,526.35) scale(0.95,1.09)" font-size="21" text-anchor="start" font-weight="bold" fill="#000">F</text>
<line x1="313" y1="536" x2="313" y2="727.5" stroke="#666" stroke-width="1.6"/>
<line x1="309" y1="727.5" x2="313.6" y2="727.5" stroke="#222" stroke-width="1"/>
<line x1="309" y1="695.5" x2="313.6" y2="695.5" stroke="#222" stroke-width="1"/>
<line x1="309" y1="663.5" x2="313.6" y2="663.5" stroke="#222" stroke-width="1"/>
<line x1="309" y1="632.5" x2="313.6" y2="632.5" stroke="#222" stroke-width="1"/>
<line x1="309" y1="600.5" x2="313.6" y2="600.5" stroke="#222" stroke-width="1"/>
<line x1="309" y1="568.5" x2="313.6" y2="568.5" stroke="#222" stroke-width="1"/>
<line x1="309" y1="536.5" x2="313.6" y2="536.5" stroke="#222" stroke-width="1"/>
<line x1="310.5" y1="711.5" x2="313.6" y2="711.5" stroke="#222" stroke-width="1"/>
<line x1="310.5" y1="679.5" x2="313.6" y2="679.5" stroke="#222" stroke-width="1"/>
<line x1="310.5" y1="647.5" x2="313.6" y2="647.5" stroke="#222" stroke-width="1"/>
<line x1="310.5" y1="616.5" x2="313.6" y2="616.5" stroke="#222" stroke-width="1"/>
<line x1="310.5" y1="584.5" x2="313.6" y2="584.5" stroke="#222" stroke-width="1"/>
<line x1="310.5" y1="552.5" x2="313.6" y2="552.5" stroke="#222" stroke-width="1"/>
<text x="306" y="732.5" font-size="12" text-anchor="end" fill="#111">0</text>
<text x="306" y="700.65" font-size="12" text-anchor="end" fill="#111">5</text>
<text x="306" y="668.8" font-size="12" text-anchor="end" fill="#111">10</text>
<text x="306" y="636.95" font-size="12" text-anchor="end" fill="#111">15</text>
<text x="306" y="605.1" font-size="12" text-anchor="end" fill="#111">20</text>
<text x="306" y="573.25" font-size="12" text-anchor="end" fill="#111">25</text>
<text x="306" y="541.4" font-size="12" text-anchor="end" fill="#111">30</text>
<line x1="309" y1="727.2" x2="494.8" y2="727.2" stroke="#222" stroke-width="1"/>
<line x1="322.5" y1="727.2" x2="322.5" y2="731.2" stroke="#222" stroke-width="1"/>
<line x1="340.5" y1="727.2" x2="340.5" y2="731.2" stroke="#222" stroke-width="1"/>
<line x1="358.5" y1="727.2" x2="358.5" y2="731.2" stroke="#222" stroke-width="1"/>
<line x1="376.5" y1="727.2" x2="376.5" y2="731.2" stroke="#222" stroke-width="1"/>
<line x1="394.5" y1="727.2" x2="394.5" y2="731.2" stroke="#222" stroke-width="1"/>
<line x1="413.5" y1="727.2" x2="413.5" y2="731.2" stroke="#222" stroke-width="1"/>
<line x1="431.5" y1="727.2" x2="431.5" y2="731.2" stroke="#222" stroke-width="1"/>
<line x1="449.5" y1="727.2" x2="449.5" y2="731.2" stroke="#222" stroke-width="1"/>
<line x1="467.5" y1="727.2" x2="467.5" y2="731.2" stroke="#222" stroke-width="1"/>
<line x1="485.5" y1="727.2" x2="485.5" y2="731.2" stroke="#222" stroke-width="1"/>
<rect x="315" y="568.35" width="14.6" height="158.65" fill="#000"/>
<text x="322.3" y="566.45" font-size="10.3" text-anchor="middle" fill="#111">17</text>
<text x="322.3" y="744.3" font-size="12" text-anchor="middle" fill="#111">4</text>
<rect x="333.17" y="549.88" width="14.6" height="177.12" fill="#000"/>
<text x="340.47" y="547.98" font-size="10.3" text-anchor="middle" fill="#111">19</text>
<text x="340.47" y="744.3" font-size="12" text-anchor="middle" fill="#111">6</text>
<rect x="351.34" y="671.54" width="14.6" height="55.46" fill="#000"/>
<text x="358.64" y="669.64" font-size="10.3" text-anchor="middle" fill="#111">6</text>
<text x="358.64" y="744.3" font-size="12" text-anchor="middle" fill="#111">8</text>
<rect x="369.51" y="690.02" width="14.6" height="36.98" fill="#000"/>
<text x="376.81" y="688.12" font-size="10.3" text-anchor="middle" fill="#111">4</text>
<text x="376.81" y="744.3" font-size="12" text-anchor="middle" fill="#111">10</text>
<rect x="387.68" y="708.68" width="14.6" height="18.32" fill="#000"/>
<text x="394.98" y="706.78" font-size="10.3" text-anchor="middle" fill="#111">2</text>
<text x="394.98" y="744.3" font-size="12" text-anchor="middle" fill="#111">12</text>
<rect x="405.85" y="690.02" width="14.6" height="36.98" fill="#000"/>
<text x="413.15" y="688.12" font-size="10.3" text-anchor="middle" fill="#111">4</text>
<text x="413.15" y="744.3" font-size="12" text-anchor="middle" fill="#111">14</text>
<rect x="424.02" y="708.49" width="14.6" height="18.51" fill="#000"/>
<text x="431.32" y="706.59" font-size="10.3" text-anchor="middle" fill="#111">2</text>
<text x="431.32" y="744.3" font-size="12" text-anchor="middle" fill="#111">16</text>
<rect x="442.19" y="690.02" width="14.6" height="36.98" fill="#000"/>
<text x="449.49" y="688.12" font-size="10.3" text-anchor="middle" fill="#111">4</text>
<text x="449.49" y="744.3" font-size="12" text-anchor="middle" fill="#111">18</text>
<rect x="460.36" y="698.94" width="14.6" height="28.06" fill="#000"/>
<text x="467.66" y="697.04" font-size="10.3" text-anchor="middle" fill="#111">3</text>
<text x="467.66" y="744.3" font-size="12" text-anchor="middle" fill="#111">20</text>
<rect x="478.53" y="661.99" width="14.6" height="65.01" fill="#000"/>
<text x="485.83" y="660.09" font-size="10.3" text-anchor="middle" fill="#111">7</text>
<text x="488.33" y="744.3" font-size="12" text-anchor="middle" fill="#111">&gt;20</text>
<text x="404.1" y="760.4" font-size="14.4" text-anchor="middle" fill="#111">Gaps between lytic hits (minutes)</text>
<text x="0" y="0" transform="translate(281.6,626) rotate(-90)" font-size="14.6" text-anchor="middle" fill="#111">Total multiple hits (%)</text>
</svg>
</body></html>
